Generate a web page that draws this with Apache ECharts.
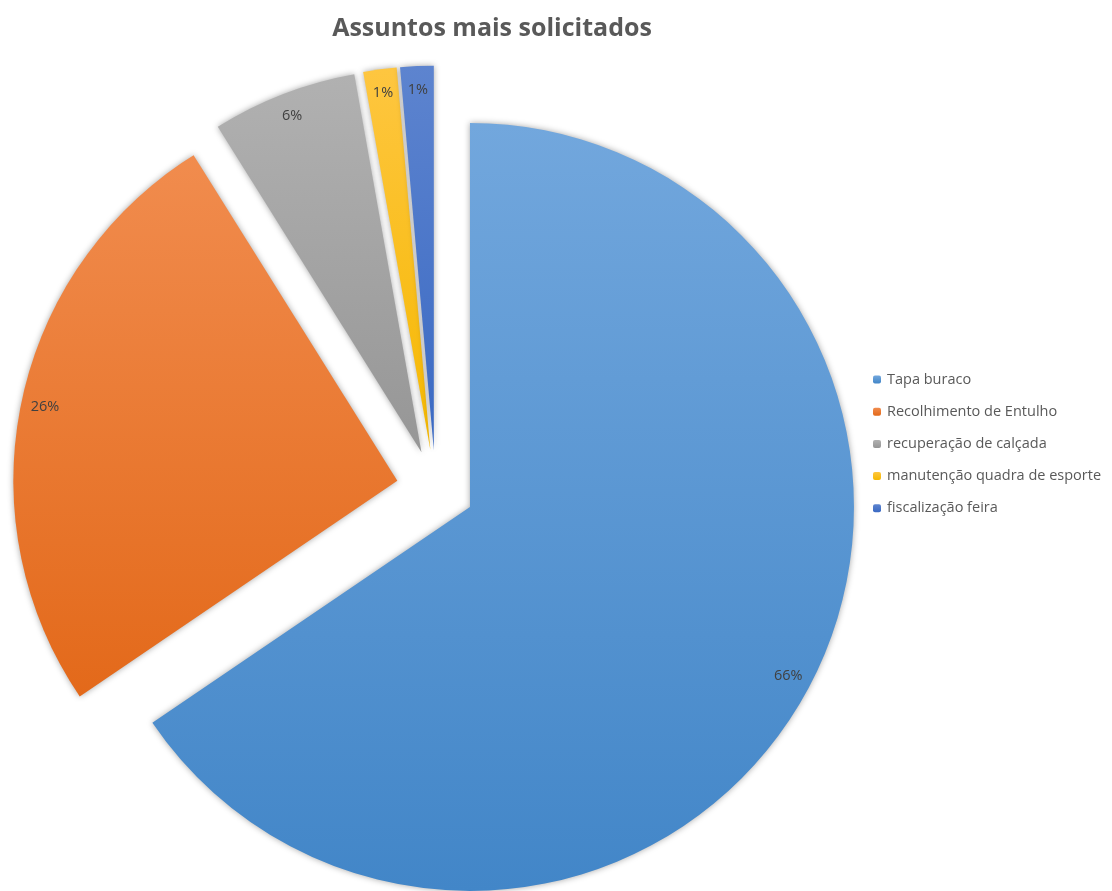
<!DOCTYPE html>
<html>
<head>
<meta charset="utf-8">
<script src="https://cdn.jsdelivr.net/npm/echarts@6/dist/echarts.min.js"></script>
<style>
  html, body { margin: 0; padding: 0; background: #fff; }
  #main { width: 1112px; height: 891px; }
</style>
</head>
<body>
<div id="main"></div>
<script>
// dados
const categories = ['Tapa buraco', 'Recolhimento de Entulho', 'recuperação de calçada', 'manutenção quadra de esporte', 'fiscalização feira']
const values = [65.5, 25.6, 6.1, 1.4, 1.4]
// cores (topo, base) do degradê de cada fatia
const topColors = ['#72a7dd', '#f18c4e', '#b1b1b1', '#fec640', '#5d84cf']
const bottomColors = ['#4286c8', '#e3691a', '#969696', '#f5b800', '#3a69c3']

const grad = (i) => new echarts.graphic.LinearGradient(0, 0, 0, 1, [
  { offset: 0, color: topColors[i] },
  { offset: 1, color: bottomColors[i] }
])

const font = '"Open Sans", "Noto Sans", sans-serif'
const R = 384

const myChart = echarts.init(document.getElementById('main'))
myChart.setOption({
  animation: false,
  title: {
    text: 'Assuntos mais solicitados',
    left: 487,
    textAlign: 'center',
    top: 11,
    textStyle: { fontFamily: font, fontSize: 25, fontWeight: 'bold', color: '#595959' }
  },
  legend: {
    orient: 'vertical',
    left: 873,
    top: 372,
    padding: 0,
    itemWidth: 8,
    itemHeight: 8,
    itemGap: 17.2,
    itemStyle: { shadowBlur: 0 },
    textStyle: { fontFamily: font, fontSize: 14.5, color: '#595959', padding: [0, 0, 0, 1] },
    data: categories
  },
  series: [
    {
      name: 'Assuntos',
      type: 'pie',
      center: [435.5, 488.7],
      radius: [0, R],
      startAngle: 90,
      selectedMode: 'multiple',
      selectedOffset: 39,
      label: { show: false },
      labelLine: { show: false },
      emphasis: { disabled: true },
      itemStyle: { shadowBlur: 6, shadowColor: 'rgba(0,0,0,0.35)' },
      data: categories.map((name, i) => ({
        name, value: values[i], selected: true,
        itemStyle: { color: grad(i) }
      }))
    },
    {
      // anel transparente só para os rótulos perto da borda
      name: 'rotulos',
      type: 'pie',
      center: [435.5, 488.7],
      radius: [R * 0.86, R],
      startAngle: 90,
      silent: true,
      selectedMode: 'multiple',
      selectedOffset: 39,
      emphasis: { disabled: true },
      itemStyle: { color: 'rgba(0,0,0,0)' },
      label: {
        show: true,
        position: 'inside',
        formatter: '{d}%',
        fontFamily: font,
        fontSize: 14.5,
        color: '#404040'
      },
      percentPrecision: 0,
      labelLine: { show: false },
      data: categories.map((name, i) => ({ name, value: values[i], selected: true }))
    }
  ]
})
</script>
</body>
</html>
